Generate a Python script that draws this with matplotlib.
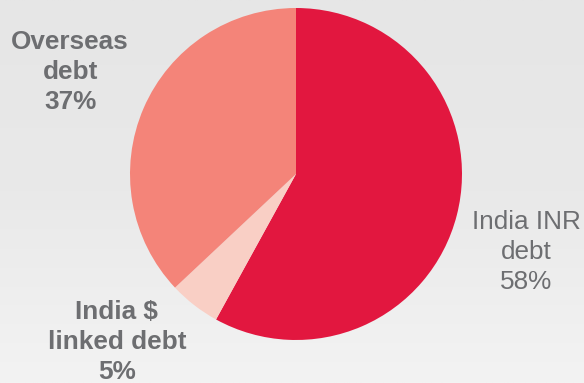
import matplotlib.pyplot as plt
import numpy as np

plt.rcParams['font.family'] = ['Liberation Sans', 'DejaVu Sans']

# Debt mix (share of total, %)
labels = ['India INR\ndebt', 'India $\nlinked debt', 'Overseas\ndebt']
shares = [58, 5, 37]
colors = ['#E2173F', '#F9CFC5', '#F48479']
bold = [False, True, True]
# where each label sits (figure fraction)
label_pos = [(0.901, 0.342), (0.200, 0.107), (0.120, 0.812)]

fig = plt.figure(figsize=(5.84, 3.83), dpi=100)

# light grey backdrop, a bit lighter toward the bottom
bg = fig.add_axes([0, 0, 1, 1])
grad = np.linspace(0, 1, 200)[:, None] * np.ones((1, 10))
bg.imshow(grad, aspect='auto', cmap=plt.matplotlib.colors.LinearSegmentedColormap.from_list(
    'bg', ['#E6E6E6', '#E9E9E9', '#F3F3F3']), extent=(0, 1, 0, 1), origin='upper')
bg.axis('off')

ax = fig.add_axes([0.2226, 0.1123, 0.5685, 0.8668])
ax.pie(shares, colors=colors, startangle=90, counterclock=False,
       wedgeprops=dict(linewidth=0))
ax.set_xlim(-1, 1)
ax.set_ylim(-1, 1)
ax.set_aspect('equal')

for lab, s, b, (x, y) in zip(labels, shares, bold, label_pos):
    fig.text(x, y, f'{lab}\n{s}%', ha='center', va='center', fontsize=18.8,
             color='#6D6E71', fontweight='bold' if b else 'normal',
             linespacing=1.31)

fig.savefig('out.png', dpi=100)
